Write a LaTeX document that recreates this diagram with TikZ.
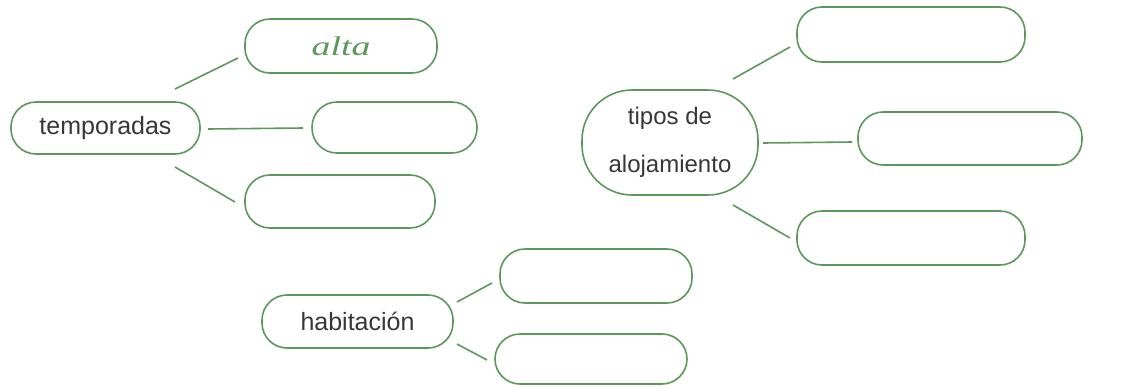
\documentclass[tikz,border=0pt]{standalone}
\usepackage{fontspec}
\setmainfont{Liberation Sans}
\newfontfamily\handfont{Liberation Serif}
\definecolor{gr}{RGB}{92,152,92}
\definecolor{txt}{RGB}{55,55,55}
\tikzset{
  pill/.style={draw=gr, line width=1.6pt, rounded corners=25pt, inner sep=0pt,
    text=txt, font=\fontsize{25}{30}\selectfont},
  bigpill/.style={pill, rounded corners=50pt},
  link/.style={draw=gr, line width=1.6pt}
}
\begin{document}
\begin{tikzpicture}[x=1pt,y=1pt]
\useasboundingbox (0,0) rectangle (1130,-386);
% left group
\node[pill, minimum width=189pt, minimum height=52pt] (temp) at (105.5,-128) {temporadas};
\node[pill, minimum width=192pt, minimum height=54pt, text=gr] (alta) at (341,-46)
  {\scalebox{1.4}[1]{\handfont\itshape\fontsize{27}{30}\selectfont alta}};
\node[pill, minimum width=165pt, minimum height=51pt] (tm) at (394.5,-127.5) {};
\node[pill, minimum width=190pt, minimum height=53pt] (tb) at (340,-201.5) {};
% right group
\node[bigpill, minimum width=176pt, minimum height=105pt, align=center,
  font=\fontsize{24}{48}\selectfont] (tipos) at (670,-142.5) {tipos de\\alojamiento};
\node[pill, minimum width=228pt, minimum height=55pt] (r1) at (911,-34.5) {};
\node[pill, minimum width=224pt, minimum height=53pt] (r2) at (970,-138.5) {};
\node[pill, minimum width=228pt, minimum height=54pt] (r3) at (911,-238) {};
% bottom group
\node[pill, minimum width=191pt, minimum height=53pt] (hab) at (357.5,-321.5) {habitación};
\node[pill, minimum width=192pt, minimum height=54pt] (h1) at (596,-276) {};
\node[pill, minimum width=192pt, minimum height=50pt] (h2) at (591,-359) {};
% connectors
\draw[link] ([shift={(69.5,39)}]temp.center) -- ([shift={(-103,-12)}]alta.center);
\draw[link] ([shift={(102.5,-1)}]temp.center) -- ([shift={(-91.5,-0.5)}]tm.center);
\draw[link] ([shift={(69.5,-39)}]temp.center) -- ([shift={(-105,-0.5)}]tb.center);
\draw[link] ([shift={(63,63.5)}]tipos.center) -- ([shift={(-121,-12.5)}]r1.center);
\draw[link] ([shift={(93,-0.5)}]tipos.center) -- ([shift={(-118,-3.5)}]r2.center);
\draw[link] ([shift={(63,-62.5)}]tipos.center) -- ([shift={(-121,0)}]r3.center);
\draw[link] ([shift={(99.5,19.5)}]hab.center) -- ([shift={(-104,-7)}]h1.center);
\draw[link] ([shift={(99.5,-22.5)}]hab.center) -- ([shift={(-104,-1)}]h2.center);
\end{tikzpicture}
\end{document}
